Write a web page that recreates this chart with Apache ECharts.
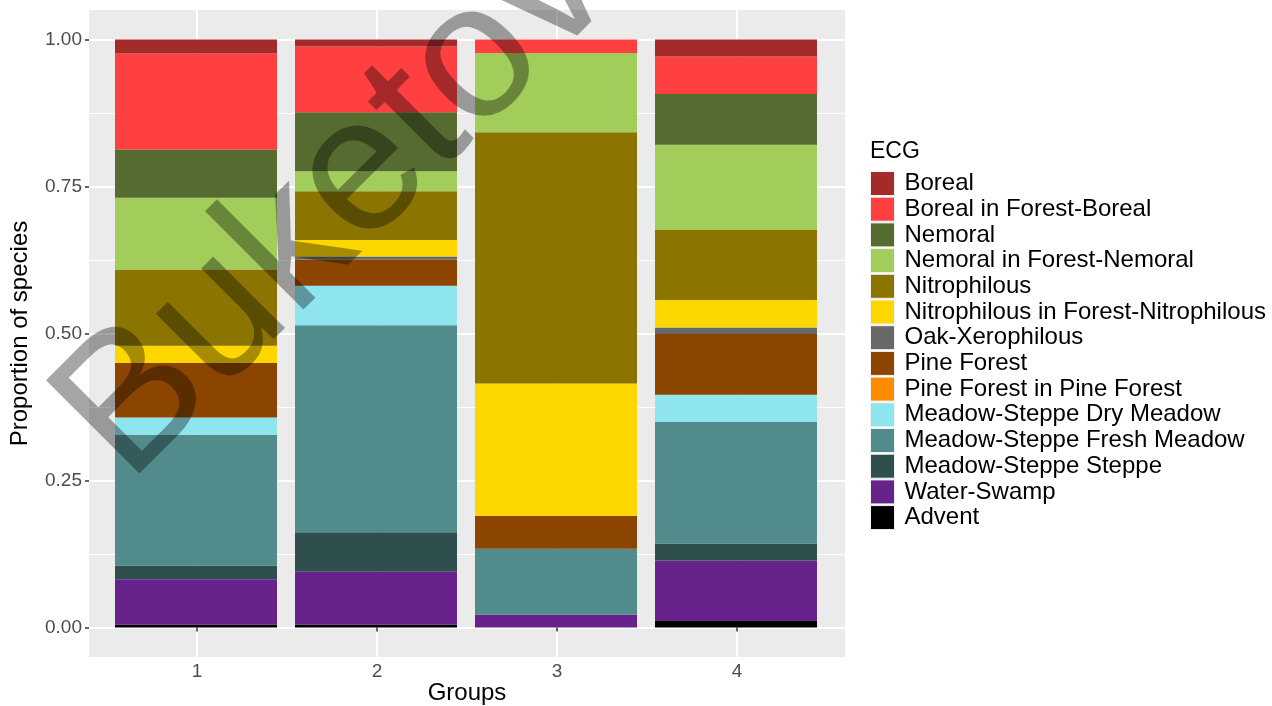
<!DOCTYPE html>
<html>
<head>
<meta charset="utf-8">
<title>ECG proportions by group</title>
<script src="https://cdn.jsdelivr.net/npm/echarts@6/dist/echarts.min.js"></script>
<style>
  html, body { margin: 0; padding: 0; background: #ffffff; }
  #chart { width: 1272px; height: 706px; }
</style>
</head>
<body>
<div id="chart"></div>
<script>
// Groups along the x axis
const groups = ['1', '2', '3', '4'];

// Ecological-coenotic groups (legend order, top of stack first)
const ecgNames = [
  'Boreal',
  'Boreal in Forest-Boreal',
  'Nemoral',
  'Nemoral in Forest-Nemoral',
  'Nitrophilous',
  'Nitrophilous in Forest-Nitrophilous',
  'Oak-Xerophilous',
  'Pine Forest',
  'Pine Forest in Pine Forest',
  'Meadow-Steppe Dry Meadow',
  'Meadow-Steppe Fresh Meadow',
  'Meadow-Steppe Steppe',
  'Water-Swamp',
  'Advent'
];

const ecgColors = [
  '#A52A2A', '#FF4040', '#556B2F', '#A2CD5A', '#8B7500', '#FFD700', '#696969',
  '#8B4500', '#FF8C00', '#8EE5EE', '#528B8B', '#2F4F4F', '#68228B', '#000000'
];

// Proportion of species per group (groups 1..4)
const boreal          = [0.024, 0.012, 0.000, 0.029];
const borealForest    = [0.163, 0.112, 0.023, 0.064];
const nemoral         = [0.082, 0.100, 0.000, 0.086];
const nemoralForest   = [0.122, 0.034, 0.135, 0.144];
const nitrophilous    = [0.130, 0.083, 0.427, 0.120];
const nitroForest     = [0.029, 0.028, 0.225, 0.047];
const oakXerophilous  = [0.000, 0.005, 0.000, 0.011];
const pineForest      = [0.093, 0.045, 0.056, 0.103];
const pineInPine      = [0.000, 0.000, 0.000, 0.000];
const dryMeadow       = [0.029, 0.067, 0.000, 0.046];
const freshMeadow     = [0.223, 0.352, 0.112, 0.207];
const steppe          = [0.023, 0.067, 0.000, 0.029];
const waterSwamp      = [0.077, 0.090, 0.022, 0.103];
const advent          = [0.005, 0.005, 0.000, 0.011];

const ecgValues = [
  boreal, borealForest, nemoral, nemoralForest, nitrophilous, nitroForest,
  oakXerophilous, pineForest, pineInPine, dryMeadow, freshMeadow, steppe,
  waterSwamp, advent
];

// Axis tick labels
const yTicks = [0, 0.25, 0.5, 0.75, 1];
const xTicks = [1, 2, 3, 4];

const FONT = '"Liberation Sans", Arial, Helvetica, sans-serif';

// Panel spans the groups with 0.6 of a band of padding on each side,
// and the proportions with 5% padding above and below.
const X_MIN = 0.4, X_MAX = 4.6;
const Y_MIN = -0.05, Y_MAX = 1.05;

// Stack from the bottom up: last legend entry sits at the base of each bar
const series = [];
for (let i = ecgNames.length - 1; i >= 0; i--) {
  series.push({
    name: ecgNames[i],
    type: 'bar',
    stack: 'ecg',
    xAxisIndex: 1,
    yAxisIndex: 1,
    barWidth: '90%',
    itemStyle: { color: ecgColors[i] },
    emphasis: { disabled: true },
    data: ecgValues[i]
  });
}

const chart = echarts.init(document.getElementById('chart'), null, { renderer: 'canvas' });

chart.setOption({
  animation: false,
  backgroundColor: '#ffffff',
  textStyle: { fontFamily: FONT },
  title: {
    text: 'ECG',
    left: 870,
    top: 140,
    padding: 0,
    textStyle: { fontFamily: FONT, fontSize: 23, fontWeight: 'normal', color: '#000000' }
  },
  legend: {
    orient: 'vertical',
    left: 870,
    top: 171,
    padding: 0,
    itemWidth: 24,
    itemHeight: 24,
    itemGap: 0.7,
    icon: 'rect',
    selectedMode: false,
    data: ecgNames,
    itemStyle: { borderColor: '#F2F2F2', borderWidth: 1 },
    textStyle: { fontFamily: FONT, fontSize: 24, lineHeight: 24, color: '#000000', padding: [0, 0, 0, 5] }
  },
  grid: [
    {
      // panel: background, grid lines, ticks, labels and titles
      left: 89,
      right: 427,
      top: 10,
      bottom: 49,
      show: true,
      backgroundColor: '#EBEBEB',
      borderWidth: 0,
      containLabel: false,
      outerBoundsMode: 'none'
    },
    {
      // bars: four bands of equal width centred on the group ticks
      left: 106,
      right: 446,
      top: 10,
      bottom: 49,
      show: false,
      containLabel: false,
      outerBoundsMode: 'none'
    }
  ],
  xAxis: [
    {
      gridIndex: 0,
      type: 'value',
      min: X_MIN,
      max: X_MAX,
      minInterval: 1,
      maxInterval: 1,
      name: 'Groups',
      nameLocation: 'middle',
      nameGap: 24,
      nameMoveOverlap: false,
      nameTextStyle: { fontFamily: FONT, fontSize: 24, color: '#000000' },
      axisLine: { show: false },
      axisTick: { show: true, length: 4, customValues: xTicks, lineStyle: { color: '#333333', width: 1.5 } },
      axisLabel: {
        customValues: xTicks,
        margin: 5,
        fontFamily: FONT,
        fontSize: 19,
        color: '#4D4D4D',
        formatter: v => (Number.isInteger(v) ? String(v) : '')
      },
      splitLine: { show: true, lineStyle: { color: '#FFFFFF', width: 2 } },
      minorSplitLine: { show: false }
    },
    {
      gridIndex: 1,
      type: 'category',
      data: groups,
      boundaryGap: true,
      show: false,
      axisLine: { show: false },
      axisTick: { show: false },
      axisLabel: { show: false },
      splitLine: { show: false }
    }
  ],
  yAxis: [
    {
      gridIndex: 0,
      type: 'value',
      min: Y_MIN,
      max: Y_MAX,
      minInterval: 0.25,
      maxInterval: 0.25,
      name: 'Proportion of species',
      nameLocation: 'middle',
      nameGap: 57,
      nameTextStyle: { fontFamily: FONT, fontSize: 24, color: '#000000' },
      axisLine: { show: false },
      axisTick: { show: true, length: 4, customValues: yTicks, lineStyle: { color: '#333333', width: 1.5 } },
      minorTick: { show: false, splitNumber: 2 },
      axisLabel: {
        customValues: yTicks,
        margin: 7,
        fontFamily: FONT,
        fontSize: 19,
        color: '#4D4D4D',
        formatter: v => (v >= 0 && v <= 1 ? v.toFixed(2) : '')
      },
      splitLine: { show: true, lineStyle: { color: '#FFFFFF', width: 2 } },
      minorSplitLine: { show: true, lineStyle: { color: '#FFFFFF', width: 1 } }
    },
    {
      gridIndex: 1,
      type: 'value',
      min: Y_MIN,
      max: Y_MAX,
      show: false,
      axisLine: { show: false },
      axisTick: { show: false },
      axisLabel: { show: false },
      splitLine: { show: false }
    }
  ],
  graphic: [
    {
      type: 'text',
      z: 100,
      silent: true,
      x: 336,
      y: 202,
      rotation: Math.PI / 4,
      style: {
        text: 'Buketov',
        font: '192px ' + FONT,
        fill: 'rgba(0,0,0,0.35)',
        align: 'center',
        verticalAlign: 'middle'
      }
    }
  ],
  series: series
});
</script>
</body>
</html>
